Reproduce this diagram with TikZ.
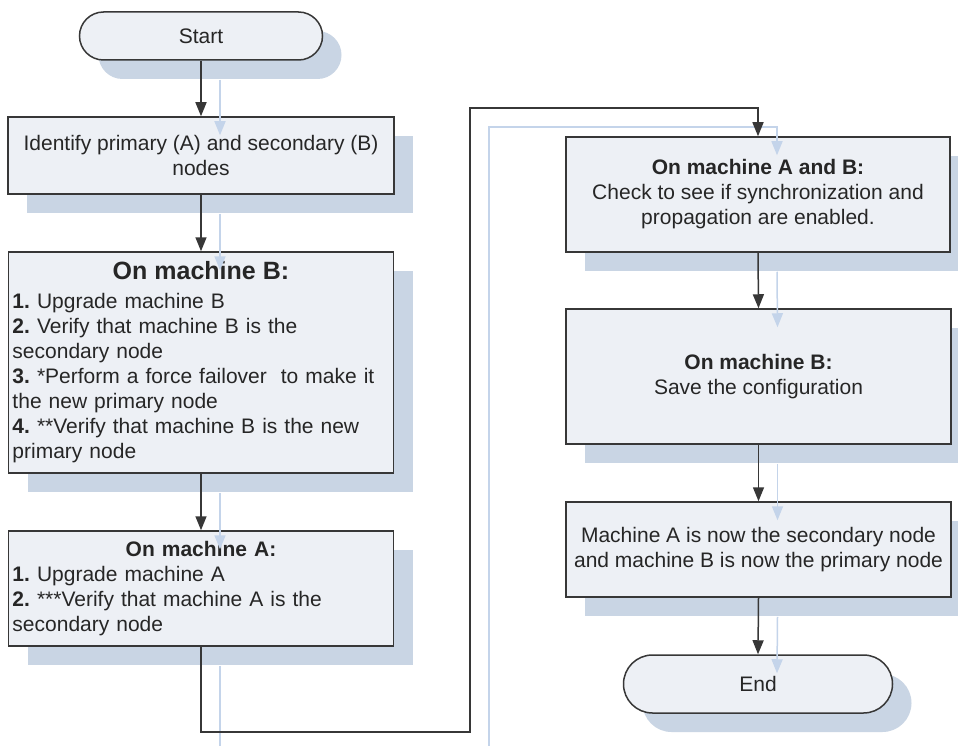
\documentclass[tikz,border=0pt]{standalone}
\usepackage{fontspec}
\setmainfont{Liberation Sans}
\usetikzlibrary{arrows.meta,shadows}
\definecolor{boxfill}{RGB}{237,240,245}
\definecolor{shadowc}{RGB}{201,213,228}
\definecolor{shlinec}{RGB}{196,212,234}
\definecolor{edgec}{RGB}{55,55,55}
\definecolor{textc}{RGB}{38,38,38}
\frenchspacing
\begin{document}
\begin{tikzpicture}[x=1pt,y=-1pt,
  box/.style={draw=edgec, fill=boxfill, line width=1.5pt, text=textc, inner sep=0pt,
    font=\fontsize{21}{25}\selectfont\frenchspacing,
    drop shadow={shadow xshift=19pt, shadow yshift=-19pt, fill=shadowc, opacity=1, draw=none}},
  conn/.style={draw=edgec, line width=1.5pt, -{Triangle[width=11pt,length=14pt]}},
  sconn/.style={draw=shlinec, line width=1.5pt, -{Triangle[width=11pt,length=14pt]}}]
\useasboundingbox[fill=white] (0,0) rectangle (958,746);

% left column
\node[box, minimum width=243pt, minimum height=48pt, rounded corners=24pt] (start) at (201,36) {Start};
\node[box, minimum width=386pt, minimum height=77pt, align=center] (ident) at (201,155.5)
  {Identify primary (A) and secondary (B)\\nodes};
\node[box, minimum width=385pt, minimum height=221pt, text width=377pt, align=left] (mb) at (201,362.5)
  {\makebox[377pt][c]{\fontsize{25}{30}\selectfont\bfseries On machine B:}\\[4pt]
   \textbf{1.} Upgrade machine B\\
   \textbf{2.} Verify that machine B is the\\
   secondary node\\
   \textbf{3.} *Perform a force failover\ \ to make it\\
   the new primary node\\
   \textbf{4.} **Verify that machine B is the new\\
   primary node};
\node[box, minimum width=385pt, minimum height=115pt, text width=377pt, align=left] (ma) at (201,588.5)
  {\makebox[377pt][c]{\bfseries On machine A:}\\
   \textbf{1.} Upgrade machine A\\
   \textbf{2.} ***Verify that machine A is the\\
   secondary node};

% right column
\node[box, minimum width=384pt, minimum height=115pt, align=center] (ab) at (758,194.5)
  {\textbf{On machine A and B:}\\Check to see if synchronization and\\propagation are enabled.};
\node[box, minimum width=385pt, minimum height=135pt, align=center] (save) at (758.5,376.5)
  {\textbf{On machine B:}\\Save the configuration};
\node[box, minimum width=385pt, minimum height=95pt, align=center] (done) at (758.5,549.5)
  {Machine A is now the secondary node\\and machine B is now the primary node};
\node[box, minimum width=269pt, minimum height=58pt, rounded corners=29pt] (end) at (758,684) {End};

\coordinate (c1) at (470,732);
\coordinate (c2) at (470,108);

% shadow connectors
\draw[sconn] ([shift={(19,19)}]start.south) -- ([shift={(19,19)}]ident.north);
\draw[sconn] ([shift={(19,19)}]ident.south) -- ([shift={(19,19)}]mb.north);
\draw[sconn] ([shift={(19,19)}]mb.south) -- ([shift={(19,19)}]ma.north);
\draw[sconn] ([shift={(19,19)}]ma.south) |- ([shift={(19,19)}]c1) -- ([shift={(19,19)}]c2) -| ([shift={(19,19)}]ab.north);
\draw[sconn] ([shift={(19,19)}]ab.south) -- ([shift={(19,19)}]save.north);
\draw[sconn] ([shift={(19,19)}]save.south) -- ([shift={(19,19)}]done.north);
\draw[sconn] ([shift={(19,19)}]done.south) -- ([shift={(19,19)}]end.north);

% connectors
\draw[conn] (start.south) -- (ident.north);
\draw[conn] (ident.south) -- (mb.north);
\draw[conn] (mb.south) -- (ma.north);
\draw[conn] (ma.south) |- (c1) -- (c2) -| (ab.north);
\draw[conn] (ab.south) -- (save.north);
\draw[conn] (save.south) -- (done.north);
\draw[conn] (done.south) -- (end.north);
\end{tikzpicture}
\end{document}
